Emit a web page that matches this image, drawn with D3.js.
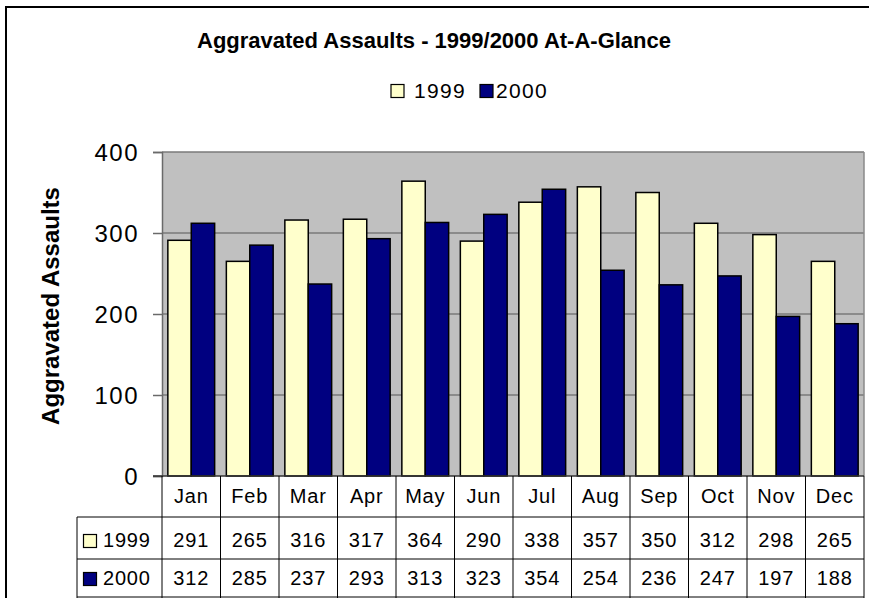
<!DOCTYPE html>
<html><head><meta charset="utf-8">
<script src="https://cdn.jsdelivr.net/npm/d3@7"></script>
<style>body{margin:0;background:#fff}svg{display:block;font-family:"Liberation Sans",Arial,sans-serif}</style>
</head><body>
<svg id="c" width="869" height="598"></svg>
<script>
const months = ["Jan","Feb","Mar","Apr","May","Jun","Jul","Aug","Sep","Oct","Nov","Dec"];
const series = ["1999","2000"];
const v1999 = [291,265,316,317,364,290,338,357,350,312,298,265];
const v2000 = [312,285,237,293,313,323,354,254,236,247,197,188];
const yTicks = [0,100,200,300,400];
const colors = {"1999":"#FFFFCC","2000":"#000080"};
const values = {"1999":v1999,"2000":v2000};

const svg = d3.select("#c");
const L=162, R=864, T=152, B=476;
const x = d3.scaleBand().domain(months).range([L,R]);
const xs = d3.scaleBand().domain(series).range([0,x.bandwidth()]).paddingInner(0).paddingOuter(0.25);
const y = d3.scaleLinear().domain([0,400]).range([B,T]);

// outer border
svg.append("path").attr("d","M6,598V7H869").attr("fill","none").attr("stroke","#000").attr("stroke-width",2);

// title
svg.append("text").attr("x",434).attr("y",48).attr("text-anchor","middle")
  .attr("font-size",22).attr("font-weight","bold").text("Aggravated Assaults - 1999/2000 At-A-Glance");

// legend
const lg = [{s:"1999",bx:391,tx:414},{s:"2000",bx:480,tx:496}];
lg.forEach(d=>{
  svg.append("rect").attr("x",d.bx).attr("y",84.5).attr("width",13).attr("height",13)
    .attr("fill",colors[d.s]).attr("stroke","#000").attr("stroke-width",1.2);
  svg.append("text").attr("x",d.tx).attr("y",97.5).attr("font-size",21).attr("letter-spacing",1.3).text(d.s);
});

// plot area
svg.append("rect").attr("x",L).attr("y",T).attr("width",R-L).attr("height",B-T).attr("fill","#C0C0C0");
svg.append("g").selectAll("line").data(yTicks.filter(t=>t>0)).join("line")
  .attr("x1",L).attr("x2",R).attr("y1",d=>y(d)).attr("y2",d=>y(d)).attr("stroke","#7a7a7a").attr("stroke-width",1.5);
svg.append("line").attr("x1",R).attr("x2",R).attr("y1",T).attr("y2",B).attr("stroke","#8a8a8a").attr("stroke-width",1.5);

// bars
const g = svg.append("g");
months.forEach((m,i)=>{
  series.forEach(s=>{
    const v = values[s][i];
    g.append("rect").attr("x",x(m)+xs(s)).attr("y",y(v)).attr("width",xs.bandwidth()).attr("height",y(0)-y(v))
      .attr("fill",colors[s]).attr("stroke","#000").attr("stroke-width",1.5);
  });
});

// y axis
const ya = svg.append("g").attr("transform",`translate(${L},0)`)
  .call(d3.axisLeft(y).tickValues(yTicks).tickSize(9).tickPadding(14));
ya.select(".domain").attr("stroke","#6a6a6a").attr("stroke-width",1.5);
ya.selectAll(".tick line").attr("stroke","#6a6a6a").attr("stroke-width",1.5);
ya.selectAll(".tick text").attr("font-size",24).attr("letter-spacing",1.5).attr("fill","#000")
  .attr("font-family","'Liberation Sans',Arial,sans-serif").attr("dy","0.36em");

// y title
svg.append("text").attr("transform","translate(59,306) rotate(-90)").attr("text-anchor","middle")
  .attr("font-size",24).attr("font-weight","bold").text("Aggravated Assaults");

// data table
const rowY = [476,517,559,597];
const tb = svg.append("g").attr("stroke","#000").attr("stroke-width",1);
tb.selectAll("line.h").data([517,559,597]).join("line").attr("x1",77).attr("x2",R).attr("y1",d=>d).attr("y2",d=>d);
tb.append("line").attr("x1",153).attr("x2",R).attr("y1",476).attr("y2",476).attr("stroke","#333").attr("stroke-width",1.5);
tb.selectAll("line.v").data(months.map(m=>x(m)).concat([R])).join("line")
  .attr("x1",d=>d).attr("x2",d=>d).attr("y1",476).attr("y2",598);
tb.append("line").attr("x1",77).attr("x2",77).attr("y1",517).attr("y2",598);

svg.append("g").selectAll("text").data(months).join("text")
  .attr("x",m=>x(m)+x.bandwidth()/2).attr("y",503).attr("text-anchor","middle").attr("font-size",20).attr("letter-spacing",0.8).text(m=>m);

const rowBase = {"1999":547,"2000":585};
series.forEach(s=>{
  svg.append("rect").attr("x",83.5).attr("y",rowBase[s]-12.5).attr("width",13).attr("height",13)
    .attr("fill",colors[s]).attr("stroke","#000").attr("stroke-width",1.2);
  svg.append("text").attr("x",103).attr("y",rowBase[s]).attr("font-size",20).attr("letter-spacing",0.8).text(s);
  svg.append("g").selectAll("text").data(values[s]).join("text")
    .attr("x",(d,i)=>x(months[i])+x.bandwidth()/2).attr("y",rowBase[s]).attr("text-anchor","middle")
    .attr("font-size",20).attr("letter-spacing",0.8).text(d=>d);
});
</script>
</body></html>
